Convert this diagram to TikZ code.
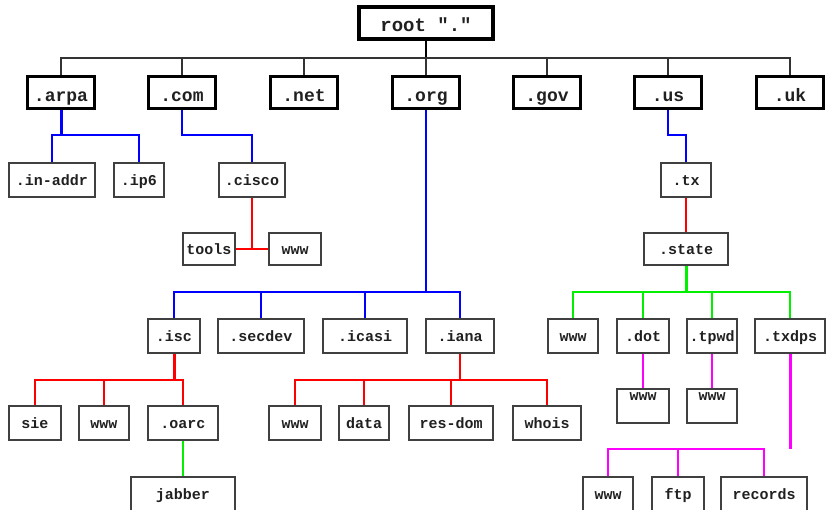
\documentclass[tikz,border=0pt]{standalone}
\usepackage{fontspec}
\setmonofont{Liberation Mono}
\definecolor{bxline}{HTML}{404040}
\definecolor{txt}{HTML}{202020}
\definecolor{cblue}{HTML}{0000FF}
\definecolor{cred}{HTML}{FF0000}
\definecolor{cgreen}{HTML}{00F000}
\definecolor{cmag}{HTML}{FF00FF}
\tikzset{
  box/.style={draw=bxline, line width=2pt, inner sep=0pt, text=txt,
    font=\fontsize{15}{15}\selectfont\ttfamily\bfseries,
    text height=10pt, text depth=0pt, minimum height=34pt},
  tld/.style={box, draw=black, line width=3pt, minimum height=32pt,
    text height=18pt, font=\fontsize{18}{18}\selectfont\ttfamily\bfseries},
  rootbox/.style={box, draw=black, line width=4pt, minimum height=32pt,
    text height=17pt, font=\fontsize{19}{19}\selectfont\ttfamily\bfseries},
  hightext/.style={text height=0pt, text depth=12pt},
  conn/.style={line width=2pt},
  trunk/.style={line width=3pt},
}
\begin{document}
\begin{tikzpicture}[x=1pt,y=-1pt]
\useasboundingbox (0,0) rectangle (826,509);
% root
\node[rootbox, minimum width=134pt] (root) at (426,23) {root "."};
% TLDs
\node[tld, minimum width=67pt] (arpa) at (61,92.5) {.arpa};
\node[tld, minimum width=67pt] (com)  at (182,92.5) {.com};
\node[tld, minimum width=67pt] (net)  at (304,92.5) {.net};
\node[tld, minimum width=67pt] (org)  at (426,92.5) {.org};
\node[tld, minimum width=67pt] (gov)  at (547,92.5) {.gov};
\node[tld, minimum width=67pt] (us)   at (668,92.5) {.us};
\node[tld, minimum width=67pt] (uk)   at (790,92.5) {.uk};
% level 2
\node[box, minimum width=86pt] (inaddr) at (52,180) {.in-addr};
\node[box, minimum width=50pt] (ip6)    at (139,180) {.ip6};
\node[box, minimum width=66pt] (cisco)  at (252,180) {.cisco};
\node[box, minimum width=50pt] (tx)     at (686,180) {.tx};
% level 3
\node[box, minimum width=52pt, minimum height=32pt] (tools) at (209,249) {tools};
\node[box, minimum width=52pt, minimum height=32pt] (wwwc)  at (295,249) {www};
\node[box, minimum width=84pt, minimum height=32pt] (state) at (686,249) {.state};
% level 4
\node[box, minimum width=52pt] (isc)    at (174,336) {.isc};
\node[box, minimum width=86pt] (secdev) at (261,336) {.secdev};
\node[box, minimum width=84pt] (icasi)  at (365,336) {.icasi};
\node[box, minimum width=68pt] (iana)   at (460,336) {.iana};
\node[box, minimum width=50pt] (wwws)   at (573,336) {www};
\node[box, minimum width=52pt] (dot)    at (643,336) {.dot};
\node[box, minimum width=50pt] (tpwd)   at (712,336) {.tpwd};
\node[box, minimum width=70pt] (txdps)  at (790,336) {.txdps};
% level 5
\node[box, minimum width=52pt] (sie)    at (35,423) {sie};
\node[box, minimum width=50pt] (wwwi)   at (104,423) {www};
\node[box, minimum width=70pt] (oarc)   at (183,423) {.oarc};
\node[box, minimum width=52pt] (wwwa)   at (295,423) {www};
\node[box, minimum width=50pt] (data)   at (364,423) {data};
\node[box, minimum width=84pt] (resdom) at (451,423) {res-dom};
\node[box, minimum width=68pt] (whois)  at (547,423) {whois};
\node[box, hightext, minimum width=52pt] (wwwd) at (643,406) {www};
\node[box, hightext, minimum width=50pt] (wwwp) at (712,406) {www};
% bottom
\node[box, minimum width=104pt] (jabber)  at (183,494) {jabber};
\node[box, minimum width=50pt]  (wwwt)    at (608,494) {www};
\node[box, minimum width=52pt]  (ftp)     at (678,494) {ftp};
\node[box, minimum width=86pt]  (records) at (764,494) {records};
% bus coordinates
\coordinate (topbus) at (0,58);
\coordinate (b2) at (0,135);
\coordinate (b4) at (0,292);
\coordinate (b5) at (0,380);
\coordinate (b6) at (0,449);
% top level connectors
\draw[conn, black] (root.south) -- (root.south |- topbus);
\draw[conn, black!80] (arpa.north) -- (arpa.north |- topbus) -- (uk.north |- topbus) -- (uk.north);
\foreach \n in {com,net,org,gov,us}
  \draw[conn, black!80] (\n.north) -- (\n.north |- topbus);
% arpa
\draw[trunk, cblue] (arpa.south) -- (arpa.south |- b2);
\draw[conn, cblue] (inaddr.north) -- (inaddr.north |- b2) -- (ip6.north |- b2) -- (ip6.north);
% com
\draw[conn, cblue] (com.south) -- (com.south |- b2) -- (cisco.north |- b2) -- (cisco.north);
% cisco
\coordinate (cj) at (cisco.south |- tools.east);
\draw[conn, cred] (cisco.south) -- (cj);
\draw[conn, cred] (tools.east) -- (wwwc.west);
% us
\draw[conn, cblue] (us.south) -- (us.south |- b2) -- (tx.north |- b2) -- (tx.north);
\draw[conn, cred] (tx.south) -- (state.north);
% org
\draw[conn, cblue] (org.south) -- (org.south |- b4);
\draw[conn, cblue] (isc.north) -- (isc.north |- b4) -- (iana.north |- b4) -- (iana.north);
\foreach \n in {secdev,icasi}
  \draw[conn, cblue] (\n.north) -- (\n.north |- b4);
% state
\draw[trunk, cgreen] (state.south) -- (state.south |- b4);
\draw[conn, cgreen] (wwws.north) -- (wwws.north |- b4) -- (txdps.north |- b4) -- (txdps.north);
\foreach \n in {dot,tpwd}
  \draw[conn, cgreen] (\n.north) -- (\n.north |- b4);
% isc
\draw[trunk, cred] (isc.south) -- (isc.south |- b5);
\draw[conn, cred] (sie.north) -- (sie.north |- b5) -- (oarc.north |- b5) -- (oarc.north);
\draw[conn, cred] (wwwi.north) -- (wwwi.north |- b5);
% iana
\draw[conn, cred] (iana.south) -- (iana.south |- b5);
\draw[conn, cred] (wwwa.north) -- (wwwa.north |- b5) -- (whois.north |- b5) -- (whois.north);
\foreach \n in {data,resdom}
  \draw[conn, cred] (\n.north) -- (\n.north |- b5);
% oarc
\draw[conn, cgreen] (oarc.south) -- (jabber.north -| oarc.south);
% dot, tpwd
\draw[conn, cmag] (dot.south) -- (wwwd.north);
\draw[conn, cmag] (tpwd.south) -- (wwwp.north);
% txdps
\draw[trunk, cmag] (txdps.south) -- (txdps.south |- b6);
\draw[conn, cmag] (wwwt.north) -- (wwwt.north |- b6) -- (records.north |- b6) -- (records.north);
\draw[conn, cmag] (ftp.north) -- (ftp.north |- b6);
\end{tikzpicture}
\end{document}
